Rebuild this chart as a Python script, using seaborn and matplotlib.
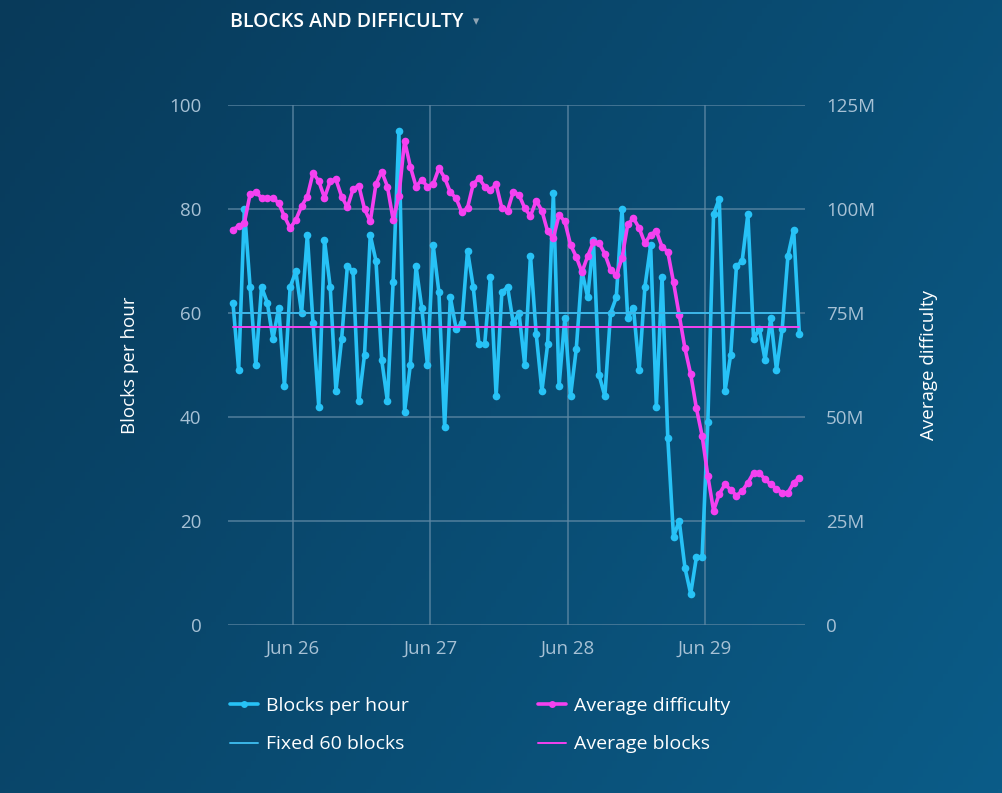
import numpy as np
import pandas as pd
import matplotlib
matplotlib.use("Agg")
import matplotlib.pyplot as plt
import matplotlib.dates as mdates
from matplotlib.lines import Line2D
import seaborn as sns

# ── Data (hourly) ─────────────────────────────────────────────────────────────
START = "2019-06-25 13:30"
blocks_per_hour = [
    62, 49, 80, 65, 50, 65, 62, 55, 61, 46,
    65, 68, 60, 75, 58, 42, 74, 65, 45, 55,
    69, 68, 43, 52, 75, 70, 51, 43, 66, 95,
    41, 50, 69, 61, 50, 73, 64, 38, 63, 57,
    58, 72, 65, 54, 54, 67, 44, 64, 65, 58,
    60, 50, 71, 56, 45, 54, 83, 46, 59, 44,
    53, 68, 63, 74, 48, 44, 60, 63, 80, 59,
    61, 49, 65, 73, 42, 67, 36, 17, 20, 11,
    6, 13, 13, 39, 79, 82, 45, 52, 69, 70,
    79, 55, 57, 51, 59, 49, 57, 71, 76, 56,
]
avg_difficulty_m = [
    95.0, 95.9, 96.7, 103.6, 104.0, 102.7, 102.7, 102.7, 101.4, 98.2,
    95.4, 97.4, 100.7, 103.0, 108.7, 106.7, 102.7, 106.7, 107.1, 103.0,
    100.4, 104.8, 105.6, 100.0, 97.0, 106.0, 109.0, 105.4, 97.4, 103.1,
    116.4, 110.2, 105.4, 107.0, 105.4, 106.0, 109.8, 107.5, 104.0, 102.6,
    99.2, 100.3, 106.0, 107.4, 105.4, 104.6, 105.9, 100.2, 99.6, 104.2,
    103.4, 100.2, 98.3, 102.0, 99.6, 94.6, 93.0, 98.6, 97.0, 91.4,
    88.5, 84.8, 88.7, 92.0, 91.8, 89.2, 85.3, 84.1, 88.2, 96.3,
    97.8, 95.4, 91.8, 93.8, 94.7, 90.9, 89.7, 82.4, 74.5, 66.5,
    60.3, 52.1, 45.5, 35.8, 27.5, 31.5, 33.8, 32.5, 31.1, 32.2,
    34.2, 36.6, 36.6, 35.0, 33.8, 32.7, 31.8, 31.8, 34.2, 35.4,
]
fixed_blocks = 60
average_blocks = 57.3

left_ticks = [0, 20, 40, 60, 80, 100]
right_ticks_m = [0, 25, 50, 75, 100, 125]

BLUE = "#27c2f6"
MAGENTA = "#f441f0"
FIXED_C = "#3cb6e8"
TICK_C = "#a7c1d5"
GRID_C = "#5d87a3"

df = pd.DataFrame({
    "time": pd.date_range(START, periods=len(blocks_per_hour), freq="h"),
    "blocks": blocks_per_hour,
    "difficulty": np.array(avg_difficulty_m) * 1e6,
})

sns.set_theme(style="dark")
plt.rcParams["font.family"] = ["Open Sans", "DejaVu Sans"]

fig = plt.figure(figsize=(10.03, 7.93), dpi=100)

# ── Gradient background ──────────────────────────────────────────────────────
bg = fig.add_axes([0, 0, 1, 1], zorder=-10)
gx, gy = np.meshgrid(np.linspace(0, 1, 200), np.linspace(0, 1, 200))
g = np.clip(0.65 * gx + 0.35 * gy, 0, 1)
c0 = np.array([8, 58, 90]) / 255
c1 = np.array([11, 92, 136]) / 255
img = c0[None, None, :] * (1 - g[..., None]) + c1[None, None, :] * g[..., None]
bg.imshow(img, aspect="auto", extent=[0, 1, 0, 1], origin="upper")
bg.axis("off")

# ── Main axes ────────────────────────────────────────────────────────────────
ax = fig.add_axes([0.2273, 0.2119, 0.5753, 0.6557])
ax2 = ax.twinx()
for a in (ax, ax2):
    a.set_facecolor("none")
    for s in a.spines.values():
        s.set_visible(False)
ax.set_zorder(1)
ax2.set_zorder(2)

sns.lineplot(data=df, x="time", y="blocks", ax=ax, color=BLUE, lw=2.6,
             marker="o", markersize=5.5, markeredgewidth=0, zorder=5)
sns.lineplot(data=df, x="time", y="difficulty", ax=ax2, color=MAGENTA, lw=2.6,
             marker="o", markersize=5.5, markeredgewidth=0, zorder=4)

# reference lines sit on top; right axis is 1.25M per block-unit
scale = 125e6 / 100
ax2.axhline(fixed_blocks * scale, color=FIXED_C, lw=1.4, zorder=6,
            xmin=0.008, xmax=0.99)
ax2.axhline(average_blocks * scale, color=MAGENTA, lw=1.4, zorder=6,
            xmin=0.008, xmax=0.99)

x0 = pd.Timestamp("2019-06-25 12:38")
x1 = pd.Timestamp("2019-06-29 17:29")
ax.set_xlim(x0, x1)
ax.set_ylim(0, 100)
ax2.set_ylim(0, 125e6)
ax.set_yticks(left_ticks)
ax2.set_yticks([v * 1e6 for v in right_ticks_m])
ax2.set_yticklabels(["0" if v == 0 else f"{v}M" for v in right_ticks_m])

ax.xaxis.set_major_locator(mdates.DayLocator())
ax.xaxis.set_major_formatter(mdates.DateFormatter("%b %d"))

ax.grid(True, color=GRID_C, lw=1.2, alpha=0.8)
ax2.grid(False)
ax.set_axisbelow(True)

ax.tick_params(axis="both", colors=TICK_C, labelsize=13.5, length=0)
ax.tick_params(axis="y", pad=19)
ax.tick_params(axis="x", pad=11)
ax2.tick_params(axis="y", colors=TICK_C, labelsize=13.5, length=0, pad=15)

ax.set_xlabel("")
ax.set_ylabel("Blocks per hour", color="white", fontsize=13.5, labelpad=22)
ax2.set_ylabel("Average difficulty", color="white", fontsize=13.5, labelpad=32)

# ── Title ─────────────────────────────────────────────────────────────────────
fig.text(0.229, 0.972, "BLOCKS AND DIFFICULTY", color="white", fontsize=14,
         fontweight="semibold", ha="left", va="center")
fig.text(0.472, 0.973, "\u25BE", color="#8fa4b4", fontsize=9,
         ha="left", va="center", family=["DejaVu Sans"])

# ── Legend (two columns placed separately) ───────────────────────────────────
col1 = [Line2D([], [], color=BLUE, lw=2.6, marker="o", markersize=5, markeredgewidth=0),
        Line2D([], [], color=FIXED_C, lw=1.4)]
col2 = [Line2D([], [], color=MAGENTA, lw=2.6, marker="o", markersize=5, markeredgewidth=0),
        Line2D([], [], color=MAGENTA, lw=1.4)]
leg_kw = dict(loc="upper left", frameon=False, fontsize=14, labelcolor="white",
              handlelength=1.45, handletextpad=0.4, labelspacing=1.05,
              borderpad=0, borderaxespad=0)
leg1 = fig.legend(col1, ["Blocks per hour", "Fixed 60 blocks"],
                  bbox_to_anchor=(0.229, 0.121), **leg_kw)
fig.legend(col2, ["Average difficulty", "Average blocks"],
           bbox_to_anchor=(0.536, 0.121), **leg_kw)

fig.savefig("out.png", dpi=100)
